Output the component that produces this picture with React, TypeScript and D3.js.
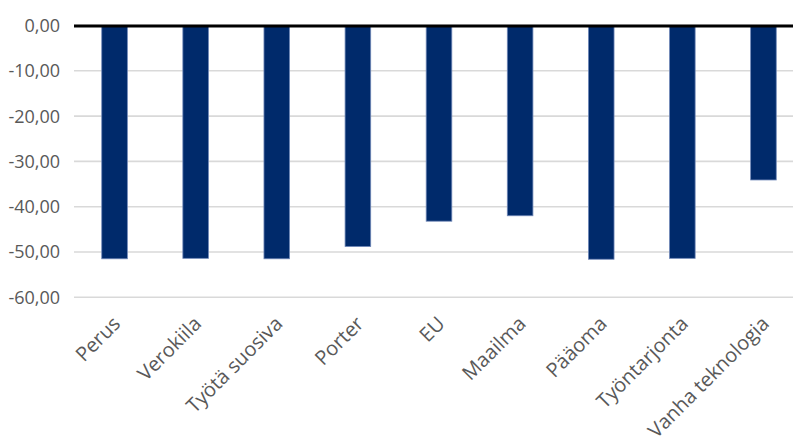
import React from "react";
import * as d3 from "d3";

const categories = ["Perus", "Verokiila", "Työtä suosiva", "Porter", "EU", "Maailma", "Pääoma", "Työntarjonta", "Vanha teknologia"];
const values = [-51.5, -51.4, -51.5, -48.8, -43.2, -42.0, -51.6, -51.4, -34.1];
const yTicks = [0, -10, -20, -30, -40, -50, -60];

const W = 793;
const H = 444;

export default function App() {
  const x = d3.scaleBand<string>().domain(categories).range([74, 804]).paddingInner(0.684).paddingOuter(0.342);
  const y = d3.scaleLinear().domain([-60, 0]).range([297.3, 25.5]);
  const fmt = (v: number) => v.toFixed(2).replace(".", ",");
  const font = "'Open Sans', 'Noto Sans', sans-serif";
  return (
    <svg width={W} height={H} style={{ position: "absolute", left: 0, top: 0, background: "#fff" }}>
      {yTicks.map((t) => (
        <g key={t}>
          <line x1={74} x2={W} y1={y(t)} y2={y(t)} stroke="#d9d9d9" strokeWidth={1.6} />
          <text x={60} y={y(t)} dy="0.36em" textAnchor="end" fontFamily={font} fontSize={18} fill="#595959">
            {fmt(t)}
          </text>
        </g>
      ))}
      {categories.map((c, i) => {
        const v = values[i];
        return (
          <rect
            key={c}
            x={x(c)!}
            y={y(0)}
            width={x.bandwidth()}
            height={y(v) - y(0)}
            fill="#002a6b"
            stroke="#7189b8"
            strokeWidth={0.8}
          />
        );
      })}
      <line x1={74} x2={W} y1={y(0) + 0.5} y2={y(0) + 0.5} stroke="#000" strokeWidth={3} />
      {categories.map((c) => {
        const cx = x(c)! + x.bandwidth() / 2;
        return (
          <text
            key={c}
            transform={`translate(${cx + 7},${325}) rotate(-45)`}
            textAnchor="end"
            fontFamily={font}
            fontSize={20}
            fill="#595959"
          >
            {c}
          </text>
        );
      })}
    </svg>
  );
}
